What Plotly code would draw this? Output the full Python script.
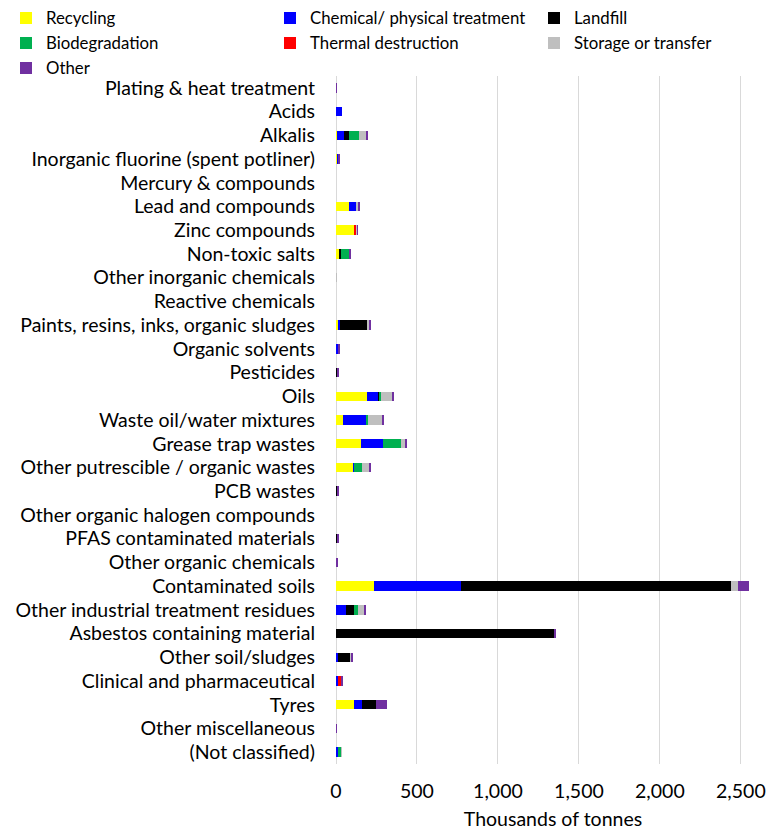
import plotly.graph_objects as go

categories = [
    "Plating & heat treatment", "Acids", "Alkalis", "Inorganic fluorine (spent potliner)",
    "Mercury & compounds", "Lead and compounds", "Zinc compounds", "Non-toxic salts",
    "Other inorganic chemicals", "Reactive chemicals", "Paints, resins, inks, organic sludges",
    "Organic solvents", "Pesticides", "Oils", "Waste oil/water mixtures", "Grease trap wastes",
    "Other putrescible / organic wastes", "PCB wastes", "Other organic halogen compounds",
    "PFAS contaminated materials", "Other organic chemicals", "Contaminated soils",
    "Other industrial treatment residues", "Asbestos containing material", "Other soil/sludges",
    "Clinical and pharmaceutical", "Tyres", "Other miscellaneous", "(Not classified)",
]

recycling = [0, 0, 5, 4, 0, 78, 113, 20, 0, 0, 12, 0, 0, 189, 41, 154, 105, 0, 0, 0, 0, 236, 0, 0, 6, 0, 109, 0, 0]
chemical = [0, 39, 45, 14, 0, 51, 0, 0, 0, 0, 14, 14, 0, 72, 150, 134, 8, 0, 0, 0, 0, 534, 64, 0, 8, 12, 51, 0, 12]
landfill = [0, 0, 29, 0, 0, 0, 0, 10, 0, 0, 171, 0, 12, 8, 0, 0, 0, 10, 0, 10, 0, 1667, 49, 1350, 78, 0, 89, 0, 0]
biodegradation = [0, 0, 62, 0, 0, 0, 0, 53, 0, 0, 0, 0, 0, 6, 8, 113, 49, 0, 0, 0, 0, 0, 23, 0, 0, 0, 0, 0, 19]
thermal = [0, 0, 0, 0, 0, 0, 16, 0, 0, 0, 0, 0, 0, 0, 0, 0, 0, 0, 0, 0, 0, 0, 0, 0, 0, 19, 0, 0, 0]
storage = [0, 0, 47, 0, 0, 10, 3, 0, 3, 0, 10, 0, 0, 74, 87, 27, 45, 0, 0, 0, 5, 46, 37, 0, 6, 3, 0, 0, 6]
other = [5, 0, 10, 2, 0, 8, 3, 4, 0, 0, 8, 6, 6, 6, 8, 10, 8, 3, 0, 3, 3, 70, 8, 5, 4, 6, 66, 5, 0]

x_ticks = [0, 500, 1000, 1500, 2000, 2500]
x_tick_labels = ["0", "500", "1,000", "1,500", "2,000", "2,500"]

series = [
    ("Recycling", recycling, "#FFFF00"),
    ("Chemical/ physical treatment", chemical, "#0000FF"),
    ("Landfill", landfill, "#000000"),
    ("Biodegradation", biodegradation, "#00B050"),
    ("Thermal destruction", thermal, "#FF0000"),
    ("Storage or transfer", storage, "#BFBFBF"),
    ("Other", other, "#7030A0"),
]

FONT = "Lato"
FS = 19.5
LEG_FS = 16.8

W, H = 780, 831
ML, MR, MT, MB = 336, 10, 76, 67
PW = W - ML - MR
col_px = [6, 270, 534]
row_y = [18, 43, 68]

fig = go.Figure()
legend_layouts = {}
for i, (name, vals, color) in enumerate(series):
    lname = "legend" if i == 0 else f"legend{i + 1}"
    fig.add_trace(go.Bar(
        y=categories, x=vals, name=name, orientation="h",
        marker=dict(color=color, line=dict(width=0)),
        legend=lname,
    ))
    r, c = divmod(i, 3)
    legend_layouts[lname] = dict(
        x=(col_px[c] - ML) / PW, y=1 - row_y[r] / H,
        xref="paper", yref="container",
        xanchor="left", yanchor="middle",
        font=dict(family=FONT, size=LEG_FS, color="#000000"),
        bgcolor="rgba(0,0,0,0)", borderwidth=0,
    )

fig.update_layout(
    width=W, height=H,
    barmode="stack",
    bargap=0.6,
    plot_bgcolor="white",
    paper_bgcolor="white",
    font=dict(family=FONT, size=FS, color="#000000"),
    margin=dict(l=ML, r=MR, t=MT, b=MB, pad=0, autoexpand=False),
    showlegend=True,
    **legend_layouts,
)

fig.update_xaxes(
    range=[0, 2680],
    tickvals=x_ticks, ticktext=x_tick_labels, tickangle=0,
    showgrid=True, gridcolor="#D9D9D9", gridwidth=1,
    zeroline=True, zerolinecolor="#D9D9D9", zerolinewidth=1,
    showline=False, ticks="",
    ticklabelstandoff=13,
    automargin=False,
    tickfont=dict(family=FONT, size=FS, color="#000000"),
    title=dict(text="Thousands of tonnes", font=dict(family=FONT, size=FS, color="#000000"), standoff=11),
)
fig.update_yaxes(
    categoryorder="array", categoryarray=categories,
    autorange="reversed",
    showgrid=False, showline=False, ticks="",
    ticklabelstandoff=20,
    automargin=False,
    tickfont=dict(family=FONT, size=FS, color="#000000"),
)

fig.write_html(
    "out.html",
    config={"displayModeBar": False},
    post_script="document.body.style.margin='0';",
)
